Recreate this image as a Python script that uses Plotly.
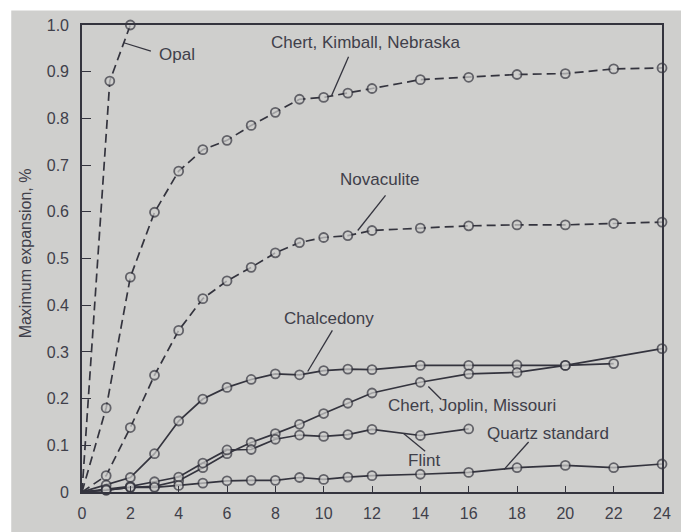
import plotly.graph_objects as go

# ---------------- data ----------------
x_tick_vals = [0, 2, 4, 6, 8, 10, 12, 14, 16, 18, 20, 22, 24]
y_tick_vals = [0, 0.1, 0.2, 0.3, 0.4, 0.5, 0.6, 0.7, 0.8, 0.9, 1.0]
y_tick_text = ["0", "0.1", "0.2", "0.3", "0.4", "0.5", "0.6", "0.7", "0.8", "0.9", "1.0"]

opal_x = [0, 1.15, 2]
opal_y = [0, 0.88, 1.0]

kimball_x = [0, 1, 2, 3, 4, 5, 6, 7, 8, 9, 10, 11, 12, 14, 16, 18, 20, 22, 24]
kimball_y = [0, 0.18, 0.46, 0.599, 0.687, 0.733, 0.753, 0.785, 0.813, 0.841, 0.845,
             0.854, 0.864, 0.883, 0.888, 0.894, 0.896, 0.906, 0.908]

novaculite_x = [0, 1, 2, 3, 4, 5, 6, 7, 8, 9, 10, 11, 12, 14, 16, 18, 20, 22, 24]
novaculite_y = [0, 0.035, 0.138, 0.25, 0.346, 0.414, 0.452, 0.481, 0.512, 0.534, 0.545,
                0.549, 0.56, 0.565, 0.57, 0.572, 0.572, 0.575, 0.578]

chalcedony_x = [0, 1, 2, 3, 4, 5, 6, 7, 8, 9, 10, 11, 12, 14, 16, 18, 20, 22]
chalcedony_y = [0, 0.015, 0.031, 0.082, 0.152, 0.199, 0.224, 0.241, 0.253, 0.251, 0.26,
                0.263, 0.262, 0.271, 0.271, 0.272, 0.271, 0.275]

joplin_x = [0, 1, 2, 3, 4, 5, 6, 7, 8, 9, 10, 11, 12, 14, 16, 18, 20, 24]
joplin_y = [0, 0.004, 0.01, 0.012, 0.024, 0.052, 0.082, 0.106, 0.125, 0.145, 0.168,
            0.19, 0.212, 0.235, 0.253, 0.256, 0.271, 0.307]

flint_x = [0, 1, 2, 3, 4, 5, 6, 7, 8, 9, 10, 11, 12, 14, 16]
flint_y = [0, 0.006, 0.012, 0.022, 0.032, 0.062, 0.09, 0.091, 0.113, 0.122, 0.119,
           0.123, 0.134, 0.121, 0.135]

quartz_x = [0, 1, 2, 3, 4, 5, 6, 7, 8, 9, 10, 11, 12, 14, 16, 18, 20, 22, 24]
quartz_y = [0, 0.004, 0.01, 0.01, 0.014, 0.019, 0.024, 0.025, 0.025, 0.031, 0.027,
            0.032, 0.035, 0.038, 0.042, 0.052, 0.057, 0.052, 0.06]

labels = ["Opal", "Chert, Kimball, Nebraska", "Novaculite", "Chalcedony",
          "Chert, Joplin, Missouri", "Flint", "Quartz standard"]

# ---------------- styling ----------------
BG = "#cfcfcd"
INK = "#34343e"
TXT = "#40404a"
FONT = "Liberation Sans, Arial, sans-serif"

series = [
    (opal_x, opal_y, "dash"),
    (kimball_x, kimball_y, "dash"),
    (novaculite_x, novaculite_y, "dash"),
    (chalcedony_x, chalcedony_y, "solid"),
    (joplin_x, joplin_y, "solid"),
    (flint_x, flint_y, "solid"),
    (quartz_x, quartz_y, "solid"),
]

fig = go.Figure()
for (xs, ys, dash), name in zip(series, labels):
    sizes = [0 if (x == 0 and y == 0) else 9 for x, y in zip(xs, ys)]
    lws = [0 if (x == 0 and y == 0) else 1.8 for x, y in zip(xs, ys)]
    fig.add_trace(go.Scatter(
        x=xs, y=ys, name=name, mode="lines+markers",
        line=dict(color=INK, width=1.7, dash="9px,5px" if dash == "dash" else "solid"),
        marker=dict(symbol="circle", size=sizes, color=BG,
                    line=dict(color=INK, width=lws)),
        cliponaxis=False, showlegend=False,
    ))

# label positions and leader lines (data coordinates)
label_pos = [
    (3.95, 0.937), (11.75, 0.963), (12.29, 0.669), (10.21, 0.371),
    (16.15, 0.186), (14.16, 0.068), (19.28, 0.126),
]
leaders = [
    ((1.73, 0.962), (2.85, 0.944)),
    ((11.03, 0.932), (10.33, 0.849)),
    ((12.56, 0.635), (11.41, 0.56)),
    ((10.36, 0.346), (9.34, 0.258)),
    ((14.33, 0.226), (14.87, 0.198)),
    ((13.32, 0.125), (14.2, 0.087)),
    ((18.48, 0.107), (17.46, 0.048)),
]

annotations = []
shapes = []
for text, (tx, ty), ((x0, y0), (x1, y1)) in zip(labels, label_pos, leaders):
    annotations.append(dict(x=tx, y=ty, xref="x", yref="y", text=text, showarrow=False,
                            font=dict(family=FONT, size=17, color=TXT)))
    shapes.append(dict(type="line", xref="x", yref="y", x0=x0, y0=y0, x1=x1, y1=y1,
                       line=dict(color=INK, width=1.3)))

annotations.append(dict(x=0, y=0.511, xref="paper", yref="paper", xshift=-57,
                        xanchor="center", yanchor="middle",
                        text="Maximum expansion, %", textangle=-90, showarrow=False,
                        font=dict(family=FONT, size=16, color=TXT)))

# scanned page: gray sheet starting ~10px from the top and left edges
shapes.append(dict(type="rect", xref="paper", yref="paper", x0=-0.122, x1=1.2,
                   y0=-0.2, y1=1.031, fillcolor=BG, line=dict(width=0), layer="below"))

fig.update_layout(
    width=681, height=532,
    margin=dict(l=82, r=10, t=25, b=28),
    paper_bgcolor="white", plot_bgcolor=BG,
    font=dict(family=FONT, color=TXT),
    annotations=annotations, shapes=shapes,
)
fig.update_xaxes(range=[0, 24], tickvals=x_tick_vals, ticks="inside", ticklen=6,
                 tickwidth=1.3, tickcolor=INK, showline=True, linecolor=INK, linewidth=1.6,
                 mirror=True, showgrid=False, zeroline=False,
                 tickfont=dict(family=FONT, size=16, color=TXT), ticklabelstandoff=6)
fig.update_yaxes(range=[0, 1.0], tickvals=y_tick_vals, ticktext=y_tick_text, ticks="inside",
                 ticklen=9, tickwidth=1.3, tickcolor=INK, showline=True, linecolor=INK,
                 linewidth=1.6, mirror=True, showgrid=False, zeroline=False,
                 tickfont=dict(family=FONT, size=16, color=TXT), ticklabelstandoff=8)

fig.write_html("out.html")
